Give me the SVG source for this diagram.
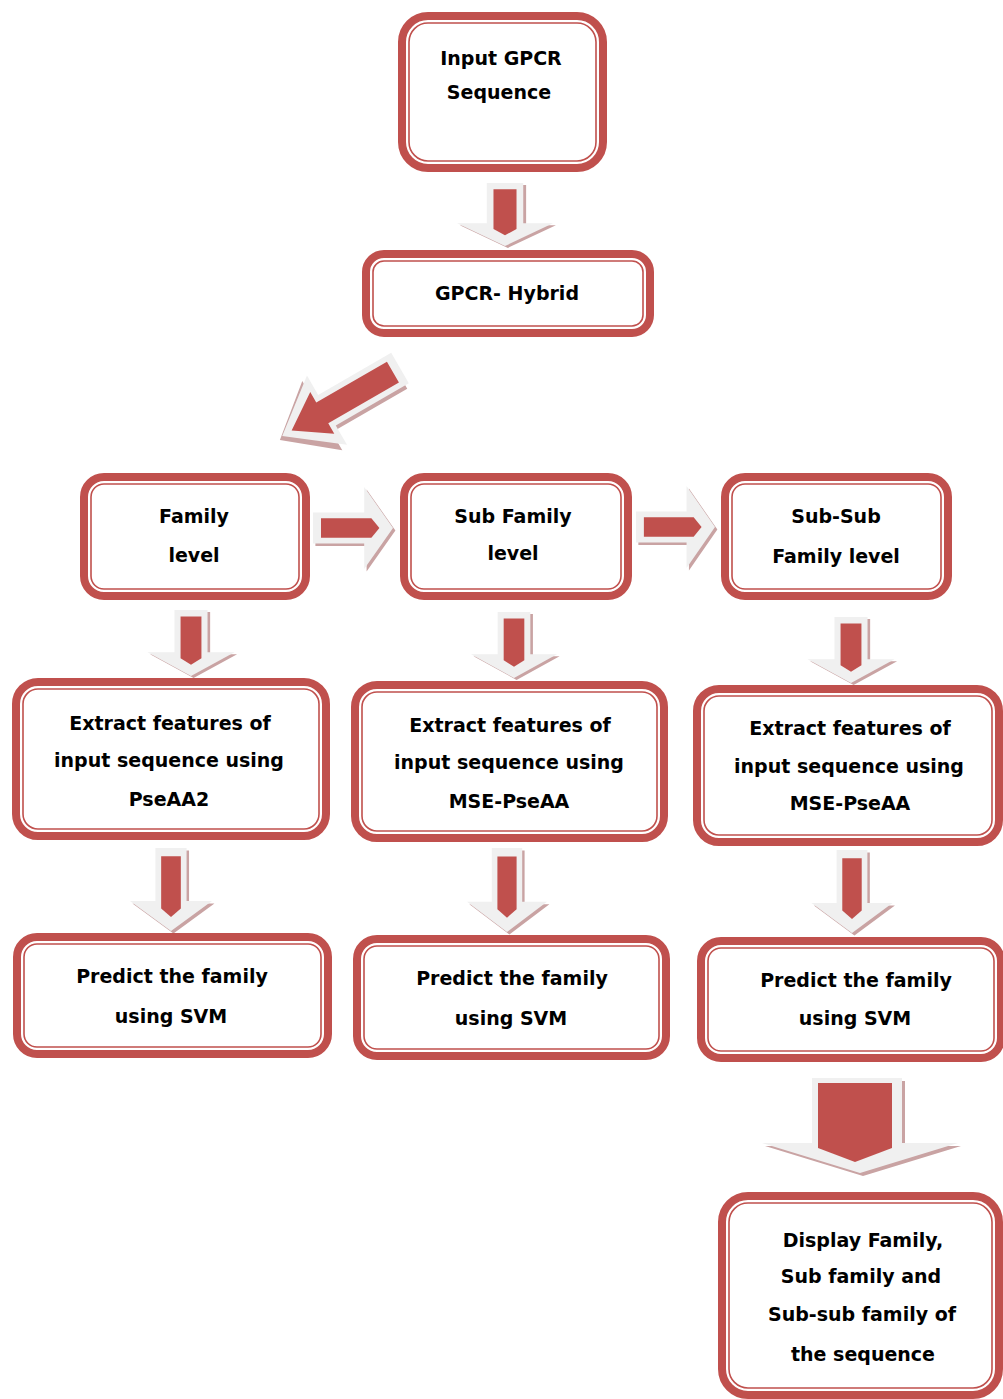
<svg xmlns="http://www.w3.org/2000/svg" xmlns:xlink="http://www.w3.org/1999/xlink" width="1003" height="1399" viewBox="0 0 1003 1399">
<style>
.o{fill:#fff;stroke:#C0504D;stroke-width:8}
.i{fill:none;stroke:#C0504D;stroke-width:1.6}
.t{font-family:"DejaVu Sans",Verdana,sans-serif;font-weight:bold;font-size:19px;fill:#000;text-anchor:middle}
.sh{fill:#c9a3a3}
.lt{fill:#f0f0f0}
.rd{fill:#C0504D}
</style>
<defs>
<g id="arr">
<path class="sh" d="M-16,3 H22 V67 H53 L3,103 L-47,67 H-16 Z"/>
<path class="lt" d="M-19,0 H19 V64 H50 L0,100 L-50,64 H-19 Z"/>
<path class="rd" d="M-12,10 H12 V73 L0,83 L-12,73 Z"/>
</g>
<g id="arrD">
<path class="sh" d="M-19,3 H27 V67 H53 L3,103 L-47,67 H-19 Z"/>
<path class="lt" d="M-22,0 H22 V62 H50 L0,100 L-50,62 H-22 Z"/>
<path class="rd" d="M-15,6 H15 V66 H30 L0,92 L-30,66 H-15 Z"/>
</g>
</defs>
<rect width="1003" height="1399" fill="#fff"/>
<g id="connectors">
<use xlink:href="#arr" transform="translate(505,183) scale(0.96,0.63)"/>
<use xlink:href="#arrD" transform="translate(400,368) rotate(60) scale(0.8,1.36)"/>
<use xlink:href="#arr" transform="translate(313,528) rotate(-90) scale(-0.82,0.8)"/>
<use xlink:href="#arr" transform="translate(636,527) rotate(-90) scale(-0.82,0.79)"/>
<use xlink:href="#arr" transform="translate(191,610) scale(0.87,0.66)"/>
<use xlink:href="#arr" transform="translate(514,612) scale(0.86,0.66)"/>
<use xlink:href="#arr" transform="translate(851,617) scale(0.87,0.66)"/>
<use xlink:href="#arr" transform="translate(171,848) scale(0.82,0.83)"/>
<use xlink:href="#arr" transform="translate(507,848) scale(0.8,0.84)"/>
<use xlink:href="#arr" transform="translate(852,850) scale(0.81,0.83)"/>
<g id="bigArrow">
<path class="sh" d="M815,1081 H905 V1146 H961 L863,1176 L765,1146 H815 Z"/>
<path class="lt" d="M812,1078 H902 V1143 H958 L860,1173 L762,1143 H812 Z"/>
<path class="rd" d="M818,1083 H892 V1148 L855,1162 L818,1148 Z"/>
</g>
</g>
<g id="n_input">
<rect class="o" x="402" y="16" width="201" height="152" rx="26"/>
<rect class="i" x="409" y="23" width="187" height="138" rx="19"/>
<text class="t" x="501" y="65">Input GPCR</text>
<text class="t" x="499" y="99">Sequence</text>
</g>
<g id="n_hybrid">
<rect class="o" x="366" y="254" width="284" height="79" rx="18"/>
<rect class="i" x="373" y="261" width="270" height="65" rx="11"/>
<text class="t" x="507" y="300">GPCR- Hybrid</text>
</g>
<g id="n_family">
<rect class="o" x="84" y="477" width="222" height="119" rx="20"/>
<rect class="i" x="91" y="484" width="208" height="105" rx="13"/>
<text class="t" x="194" y="523">Family</text>
<text class="t" x="194" y="562">level</text>
</g>
<g id="n_subfamily">
<rect class="o" x="404" y="477" width="224" height="119" rx="20"/>
<rect class="i" x="411" y="484" width="210" height="105" rx="13"/>
<text class="t" x="513" y="523">Sub Family</text>
<text class="t" x="513" y="560">level</text>
</g>
<g id="n_subsub">
<rect class="o" x="725" y="477" width="223" height="119" rx="20"/>
<rect class="i" x="732" y="484" width="209" height="105" rx="13"/>
<text class="t" x="836" y="523">Sub-Sub</text>
<text class="t" x="836" y="563">Family level</text>
</g>
<g id="n_extract1">
<rect class="o" x="16" y="682" width="310" height="154" rx="22"/>
<rect class="i" x="23" y="689" width="296" height="140" rx="15"/>
<text class="t" x="170" y="730">Extract features of</text>
<text class="t" x="169" y="767">input sequence using</text>
<text class="t" x="169" y="806">PseAA2</text>
</g>
<g id="n_extract2">
<rect class="o" x="355" y="685" width="309" height="153" rx="22"/>
<rect class="i" x="362" y="692" width="295" height="139" rx="15"/>
<text class="t" x="510" y="732">Extract features of</text>
<text class="t" x="509" y="769">input sequence using</text>
<text class="t" x="509" y="808">MSE-PseAA</text>
</g>
<g id="n_extract3">
<rect class="o" x="697" y="689" width="302" height="153" rx="22"/>
<rect class="i" x="704" y="696" width="288" height="139" rx="15"/>
<text class="t" x="850" y="735">Extract features of</text>
<text class="t" x="849" y="773">input sequence using</text>
<text class="t" x="850" y="810">MSE-PseAA</text>
</g>
<g id="n_predict1">
<rect class="o" x="17" y="937" width="311" height="117" rx="20"/>
<rect class="i" x="24" y="944" width="297" height="103" rx="13"/>
<text class="t" x="172" y="983">Predict the family</text>
<text class="t" x="171" y="1023">using SVM</text>
</g>
<g id="n_predict2">
<rect class="o" x="357" y="939" width="309" height="117" rx="20"/>
<rect class="i" x="364" y="946" width="295" height="103" rx="13"/>
<text class="t" x="512" y="985">Predict the family</text>
<text class="t" x="511" y="1025">using SVM</text>
</g>
<g id="n_predict3">
<rect class="o" x="701" y="941" width="300" height="117" rx="20"/>
<rect class="i" x="708" y="948" width="286" height="103" rx="13"/>
<text class="t" x="856" y="987">Predict the family</text>
<text class="t" x="855" y="1025">using SVM</text>
</g>
<g id="n_display">
<rect class="o" x="722" y="1196" width="277" height="199" rx="26"/>
<rect class="i" x="729" y="1203" width="263" height="185" rx="19"/>
<text class="t" x="863" y="1247">Display Family,</text>
<text class="t" x="861" y="1283">Sub family and</text>
<text class="t" x="862" y="1321">Sub-sub family of</text>
<text class="t" x="863" y="1361">the sequence</text>
</g>
</svg>
